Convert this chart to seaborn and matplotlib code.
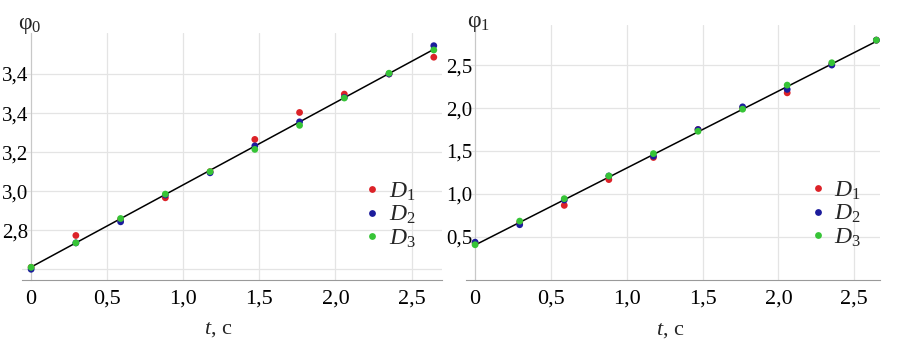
import numpy as np
import pandas as pd
import matplotlib
matplotlib.use("Agg")
import matplotlib.pyplot as plt
import seaborn as sns

# ---- data ----
t = [0.0, 0.294, 0.588, 0.882, 1.176, 1.470, 1.764, 2.058, 2.352, 2.646]
phi0_D1 = [2.610, 2.773, 2.855, 2.966, 3.100, 3.265, 3.403, 3.497, 3.600, 3.686]
phi0_D2 = [2.600, 2.735, 2.843, 2.980, 3.094, 3.232, 3.355, 3.480, 3.600, 3.745]
phi0_D3 = [2.610, 2.735, 2.860, 2.985, 3.100, 3.214, 3.337, 3.477, 3.604, 3.723]
phi1_D1 = [0.430, 0.670, 0.868, 1.168, 1.425, 1.750, 2.000, 2.177, 2.510, 2.790]
phi1_D2 = [0.440, 0.643, 0.930, 1.210, 1.440, 1.750, 2.014, 2.217, 2.500, 2.790]
phi1_D3 = [0.410, 0.685, 0.946, 1.210, 1.470, 1.730, 1.987, 2.267, 2.527, 2.790]
series_labels = ["$D_1$", "$D_2$", "$D_3$"]
x_ticks = [0, 0.5, 1.0, 1.5, 2.0, 2.5]
x_ticklabels = ["0", "0,5", "1,0", "1,5", "2,0", "2,5"]
y0_ticks = [2.6, 2.8, 3.0, 3.2, 3.4, 3.6]
y0_ticklabels = ["", "2,8", "3,0", "3,2", "3,4", "3,4"]
y1_ticks = [0.5, 1.0, 1.5, 2.0, 2.5]
y1_ticklabels = ["0,5", "1,0", "1,5", "2,0", "2,5"]
colors = ["#dc2228", "#1c1c9c", "#36c436"]

def long_df(series):
    frames = []
    for lab, vals in zip(series_labels, series):
        frames.append(pd.DataFrame({"t": t, "phi": vals, "D": lab}))
    return pd.concat(frames, ignore_index=True)

df0 = long_df([phi0_D1, phi0_D2, phi0_D3])
df1 = long_df([phi1_D1, phi1_D2, phi1_D3])

sns.set_style("white")
plt.rcParams["font.family"] = ["Liberation Serif", "DejaVu Serif"]
plt.rcParams["mathtext.fontset"] = "custom"
plt.rcParams["mathtext.rm"] = "Liberation Serif"
plt.rcParams["mathtext.it"] = "Liberation Serif:italic"

W, H = 899, 339
fig = plt.figure(figsize=(W / 100, H / 100), dpi=100)

def px_axes(x0, x1, ytop, ybot):
    return fig.add_axes([x0 / W, 1 - ybot / H, (x1 - x0) / W, (ybot - ytop) / H])

ax0 = px_axes(22, 442, 33, 280)
ax1 = px_axes(466, 880, 25, 280)

grid_c = "#e4e4e4"
spine_c = "#9a9a9a"

def style(ax, df, ylim, yticks, yticklabels, legend_anchor, xlabel_x):
    sns.regplot(data=df, x="t", y="phi", scatter=False, ci=None, color="black",
                line_kws=dict(lw=1.1, zorder=3), truncate=True, ax=ax)
    sns.scatterplot(data=df, x="t", y="phi", hue="D", palette=colors, s=24,
                    linewidth=0, ax=ax, zorder=4)
    ax.set_xlim(-0.06, 2.70 if ax is ax0 else 2.67)
    ax.set_ylim(*ylim)
    ax.set_xticks(x_ticks)
    ax.set_xticklabels(x_ticklabels)
    ax.set_yticks(yticks)
    ax.set_yticklabels(yticklabels)
    ax.grid(True, color=grid_c, lw=0.9)
    for s in ["top", "right"]:
        ax.spines[s].set_visible(False)
    ax.spines["left"].set_position(("data", 0))
    ax.spines["left"].set_color("#c8c8c8")
    ax.spines["bottom"].set_color(spine_c)
    ax.tick_params(axis="both", length=0, colors="black")
    ax.tick_params(axis="x", pad=7, labelsize=16)
    ax.tick_params(axis="y", pad=2, labelsize=15)
    ax.set_xlabel("")
    ax.set_ylabel("")
    ax.text(xlabel_x, -0.20, "$t$, с", transform=ax.transAxes, ha="center",
            va="center", fontsize=16)
    sns.move_legend(ax, "upper left", bbox_to_anchor=legend_anchor, frameon=False,
                    title=None, fontsize=17, handletextpad=0.25, labelspacing=0.05,
                    borderpad=0, handlelength=0.9, markerscale=1.0)

style(ax0, df0, (2.545, 3.81), y0_ticks, y0_ticklabels, (0.78, 0.45), 0.467)
style(ax1, df1, (0.0, 2.966), y1_ticks, y1_ticklabels, (0.795, 0.44), 0.493)

fig.text(18 / W, 1 - 26 / H, "φ$_0$", fontsize=17, va="center", ha="left")
fig.text(467 / W, 1 - 24 / H, "φ$_1$", fontsize=17, va="center", ha="left")

fig.savefig("out.png", dpi=100)
